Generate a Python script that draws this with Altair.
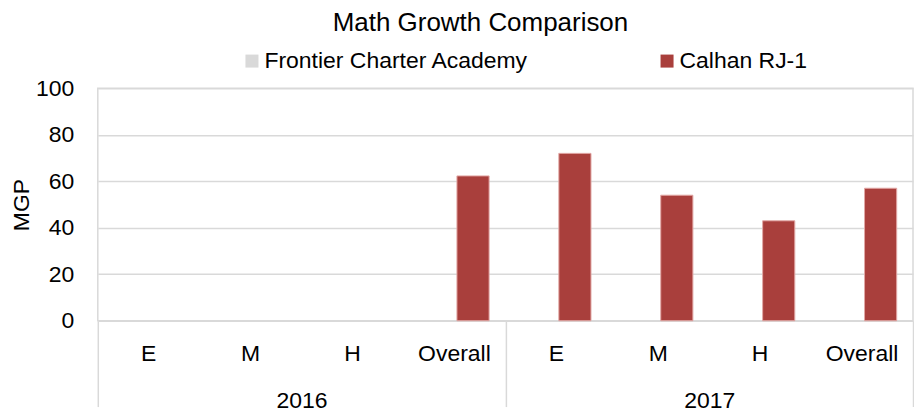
import altair as alt
import pandas as pd

years = ["2016", "2017"]
levels = ["E", "M", "H", "Overall"]
schools = ["Frontier Charter Academy", "Calhan RJ-1"]
frontier = [None, None, None, None, None, None, None, None]
calhan = [None, None, None, 62.3, 72, 54, 43, 57]
colors = ["#d9d9d9", "#a93f3c"]

FONT = "Liberation Sans, Arial, sans-serif"
FS = 23

keys = [f"{y}|{l}" for y in years for l in levels]
rows = []
for sch, vals in zip(schools, [frontier, calhan]):
    for k, v in zip(keys, vals):
        rows.append({"key": k, "school": sch, "value": v})
df = pd.DataFrame(rows)
ydf = pd.DataFrame({"year": years})

bars = alt.Chart(df).mark_bar(stroke="#e2a8a6", strokeWidth=1).encode(
    x=alt.X("key:N", sort=keys,
            scale=alt.Scale(domain=keys, paddingInner=0.32, paddingOuter=0.16),
            axis=alt.Axis(title=None, labelExpr="split(datum.label, '|')[1]", labelAngle=0,
                          domain=False, ticks=False, grid=False, labelPadding=22,
                          labelFontSize=FS, labelColor="black", labelFont=FONT)),
    xOffset=alt.XOffset("school:N", sort=schools,
                        scale=alt.Scale(domain=schools, paddingInner=0.134, paddingOuter=0)),
    y=alt.Y("value:Q", scale=alt.Scale(domain=[0, 100]),
            axis=alt.Axis(values=[0, 20, 40, 60, 80, 100], title="MGP", grid=True,
                          gridColor="#d9d9d9", gridWidth=1.5, domain=False, ticks=False,
                          labelPadding=24, labelFontSize=FS, labelColor="black", labelFont=FONT,
                          titleFontSize=FS, titleFont=FONT, titleFontWeight="normal",
                          titleColor="black", titlePadding=2)),
    color=alt.Color("school:N", sort=schools,
                    scale=alt.Scale(domain=schools, range=colors),
                    legend=alt.Legend(title=None, orient="none", direction="horizontal",
                                      legendX=143, legendY=-39, padding=0,
                                      symbolType="square", symbolSize=170,
                                      symbolStrokeWidth=0, labelFontSize=FS, labelFont=FONT,
                                      labelColor="black", columnPadding=127, labelOffset=1,
                                      labelLimit=400)),
)

yearlayer = alt.Chart(ydf).mark_bar(opacity=0).encode(
    x=alt.X("year:N", sort=years,
            scale=alt.Scale(domain=years, paddingInner=0, paddingOuter=0),
            axis=alt.Axis(orient="bottom", title=None, labelAngle=0, domain=False,
                          grid=False, tickBand="extent", tickSize=86, tickColor="#d9d9d9",
                          tickWidth=1.5, labelPadding=-17, labelFontSize=FS,
                          labelColor="black", labelFont=FONT)),
)

chart = alt.layer(bars, yearlayer).resolve_scale(x="independent").properties(
    width=817, height=233,
    padding={"left": 2, "top": 2, "right": 0, "bottom": 0},
    title=alt.Title("Math Growth Comparison", fontSize=26, font=FONT,
                    fontWeight="normal", color="black", anchor="middle", dx=-25, offset=13),
).configure_view(stroke="#d9d9d9", strokeWidth=1.5)

chart.save("out.html", embed_options={"renderer": "svg", "actions": False})
